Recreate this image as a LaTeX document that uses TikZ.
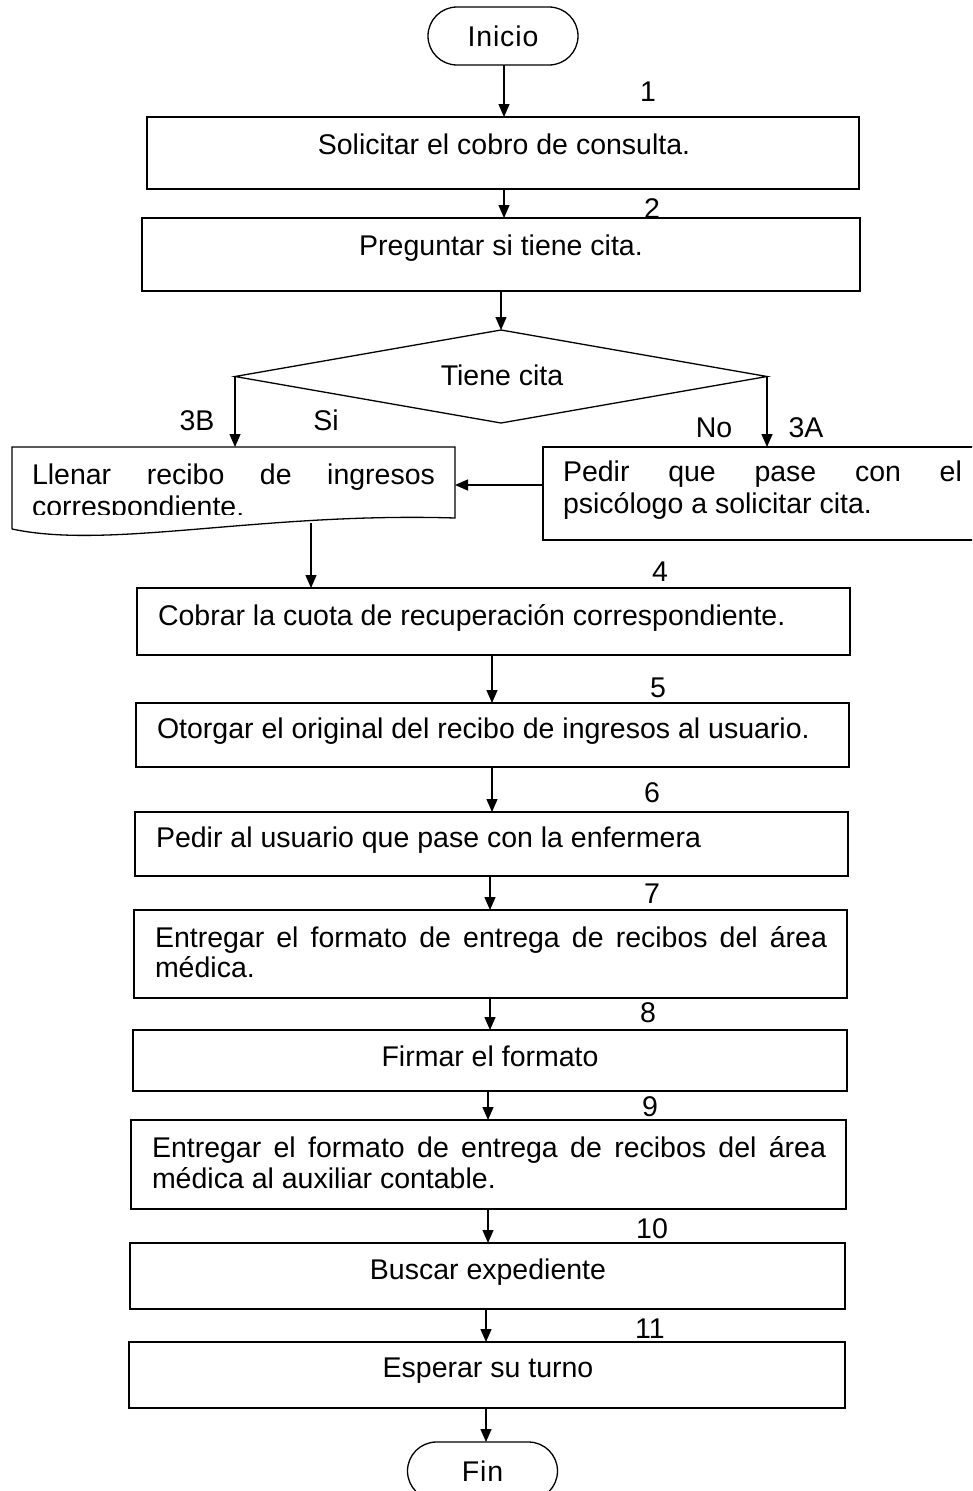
\documentclass[tikz,border=0pt]{standalone}
\usepackage{fontspec}
\setmainfont{Liberation Sans}
\newfontfamily\spacedfont[LetterSpace=3]{Liberation Sans}
\usetikzlibrary{arrows.meta,shapes.misc,fit}
\begin{document}
\begin{tikzpicture}[x=1pt,y=-1pt,
  line width=1.3pt,
  every node/.style={font=\fontsize{28.5}{32}\selectfont},
  box/.style={draw,rectangle,inner sep=0pt,outer sep=0pt},
  frame/.style={rectangle,inner sep=0pt,outer sep=0pt},
  term/.style={draw,rounded rectangle,minimum width=150pt,minimum height=58pt,
    inner sep=0pt,outer sep=0pt,font=\spacedfont\fontsize{28.5}{32}\selectfont},
  txt/.style={inner sep=0pt,outer sep=0pt},
  lbl/.style={inner sep=0pt,outer sep=0pt,anchor=base},
  arr/.style={-{Triangle[length=13pt,width=11pt]}}]

\useasboundingbox (0,0) rectangle (972,1491);
\clip (0,0) rectangle (972,1491);

% terminals
\node[term] (ini) at (503,36) {Inicio};
\node[term] (fin) at (482.5,1471) {Fin};

% process boxes
\node[box,fit={(147,117) (859,189)}] (b1) {};
\node[box,fit={(142,218) (860,291)}] (b2) {};
\node[frame,fit={(235,330) (767,423)}] (dia) {};
\node[box,fit={(543,447) (990,540)}] (b3a) {};
\node[frame,fit={(12,447) (455,523)}] (doc) {};
\node[box,fit={(137,588) (850,655)}] (b4) {};
\node[box,fit={(136,703) (849,767)}] (b5) {};
\node[box,fit={(135,812) (848,876)}] (b6) {};
\node[box,fit={(134,910) (847,998)}] (b7) {};
\node[box,fit={(133,1030) (847,1091)}] (b8) {};
\node[box,fit={(131,1120) (846,1209)}] (b9) {};
\node[box,fit={(130,1243) (845,1309)}] (b10) {};
\node[box,fit={(129,1342) (845,1408)}] (b11) {};

% decision diamond
\draw (dia.north) -- (dia.east) -- (dia.south) -- (dia.west) -- cycle;
\node[txt,anchor=base] (tdia) at (502,385) {Tiene cita};

% document symbol with wavy bottom
\draw (12,529) -- (doc.north west) -- (doc.north east) -- (455,518)
  .. controls (260,512) and (110,550) .. (12,529);
\coordinate (docout) at (311,523);

% box texts
\node[txt,anchor=base] (t1) at (504,154) {Solicitar el cobro de consulta.};
\node[txt,anchor=base] (t2) at (501,255) {Preguntar si tiene cita.};
\begin{scope}
  \clip (12,447) rectangle (455,514);
  \node[txt,anchor=base west] (tdoc1) at (32,484) {\makebox[403pt][s]{Llenar recibo de ingresos}};
  \node[txt,anchor=base west] (tdoc2) at (32,516) {correspondiente.};
\end{scope}
\node[txt,anchor=base west] (t3a1) at (563,481) {\makebox[399pt][s]{Pedir que pase con el}};
\node[txt,anchor=base west] (t3a2) at (563,513) {psicólogo a solicitar cita.};
\node[txt,anchor=base west] (t4) at (158,625) {Cobrar la cuota de recuperación correspondiente.};
\node[txt,anchor=base west] (t5) at (157,738) {Otorgar el original del recibo de ingresos al usuario.};
\node[txt,anchor=base west] (t6) at (156,847) {Pedir al usuario que pase con la enfermera};
\node[txt,anchor=base west] (t7a) at (155,947) {\makebox[672pt][s]{Entregar el formato de entrega de recibos del área}};
\node[txt,anchor=base west] (t7b) at (155,977) {médica.};
\node[txt,anchor=base] (t8) at (490,1066) {Firmar el formato};
\node[txt,anchor=base west] (t9a) at (152,1157) {\makebox[674pt][s]{Entregar el formato de entrega de recibos del área}};
\node[txt,anchor=base west] (t9b) at (152,1188) {médica al auxiliar contable.};
\node[txt,anchor=base] (t10) at (488,1279) {Buscar expediente};
\node[txt,anchor=base] (t11) at (488,1377) {Esperar su turno};

% step numbers and branch labels
\node[lbl] (n1) at (648,101) {1};
\node[lbl] (n2) at (652,218) {2};
\node[lbl] (n3b) at (197,430) {3B};
\node[lbl] (nsi) at (326,430) {Si};
\node[lbl] (nno) at (714,437) {No};
\node[lbl] (n3a) at (806,437) {3A};
\node[lbl] (n4) at (660,581) {4};
\node[lbl] (n5) at (658,697) {5};
\node[lbl] (n6) at (652,802) {6};
\node[lbl] (n7) at (652,903) {7};
\node[lbl] (n8) at (648,1022) {8};
\node[lbl] (n9) at (650,1116) {9};
\node[lbl] (n10) at (652,1238) {10};
\node[lbl] (n11) at (650,1338) {11};

% connectors
\draw[arr] (ini.south -| 504,0) -- (b1.north -| 504,0);
\draw[arr] (b1.south -| 504,0) -- (b2.north -| 504,0);
\draw[arr] (b2.south -| dia.north) -- (dia.north);
\draw[arr] (dia.west) -- (dia.west |- doc.north);
\draw[arr] (dia.east) -- (dia.east |- b3a.north);
\draw[arr] (b3a.west |- doc.east) -- (doc.east);
\draw[arr] (docout) -- (docout |- b4.north);
\draw[arr] (b4.south -| 492,0) -- (b5.north -| 492,0);
\draw[arr] (b5.south -| 492,0) -- (b6.north -| 492,0);
\draw[arr] (b6.south -| 490,0) -- (b7.north -| 490,0);
\draw[arr] (b7.south -| 490,0) -- (b8.north -| 490,0);
\draw[arr] (b8.south -| 488,0) -- (b9.north -| 488,0);
\draw[arr] (b9.south -| 488,0) -- (b10.north -| 488,0);
\draw[arr] (b10.south -| 486,0) -- (b11.north -| 486,0);
\draw[arr] (b11.south -| 486,0) -- (fin.north -| 486,0);
\end{tikzpicture}
\end{document}
